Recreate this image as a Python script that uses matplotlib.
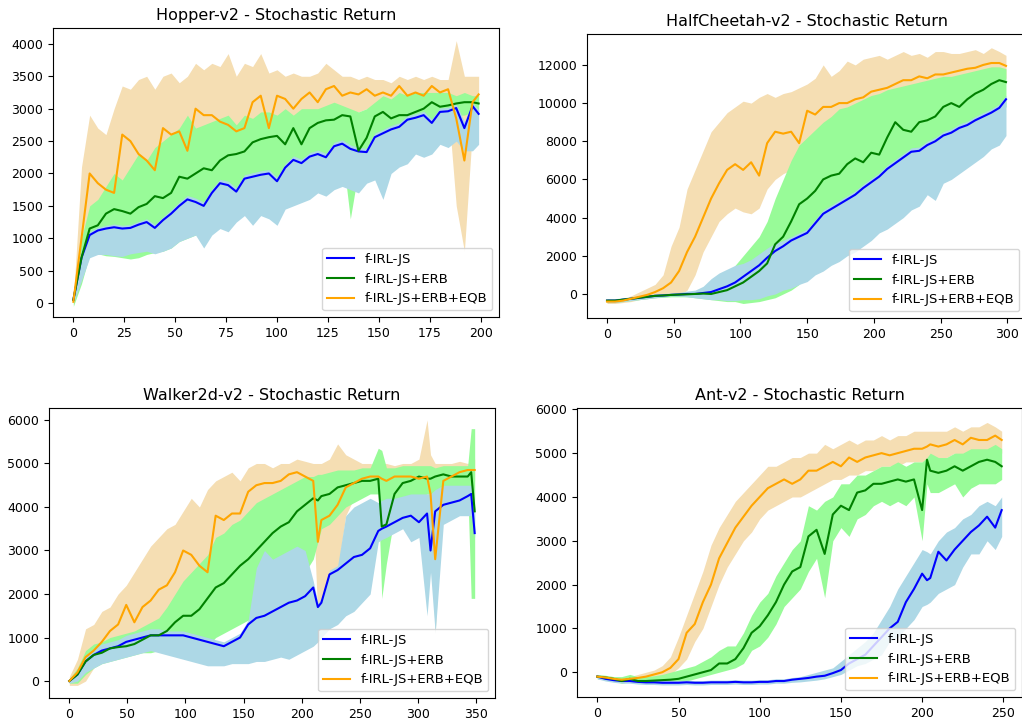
import matplotlib
matplotlib.use('Agg')
import matplotlib.pyplot as plt

plt.rcParams['font.family'] = 'DejaVu Sans'
plt.rcParams['font.size'] = 9

labels = ['f-IRL-JS', 'f-IRL-JS+ERB', 'f-IRL-JS+ERB+EQB']

# ---------------- Hopper-v2 ----------------
hop_x = [0, 4, 8, 12, 16, 20, 24, 28, 32, 36, 40, 44, 48, 52, 56, 60, 64, 68, 72, 76,
         80, 84, 88, 92, 96, 100, 104, 108, 112, 116, 120, 124, 128, 132, 136, 140, 144, 148, 152, 156,
         160, 164, 168, 172, 176, 180, 184, 188, 192, 196, 199]
hop_js = [50, 700, 1050, 1120, 1150, 1170, 1150, 1160, 1210, 1250, 1160, 1280, 1380, 1500, 1600, 1560, 1500, 1700, 1850, 1820,
          1720, 1920, 1950, 1980, 2000, 1880, 2090, 2210, 2160, 2260, 2300, 2250, 2420, 2460, 2380, 2340, 2330, 2560, 2620, 2680,
          2720, 2830, 2860, 2900, 2780, 2950, 2960, 3010, 2700, 3040, 2920]
hop_js_lo = [0, 350, 700, 750, 750, 730, 720, 760, 780, 800, 760, 800, 850, 950, 1000, 1050, 850, 1050, 1150, 1100,
             1250, 1350, 1200, 1350, 1300, 1200, 1450, 1500, 1550, 1600, 1700, 1650, 1750, 1800, 1750, 1700, 1850, 1900, 1600, 2000,
             2100, 2150, 2300, 2250, 2300, 2450, 2400, 2500, 2350, 2350, 2450]
hop_js_hi = [60, 760, 1100, 1170, 1200, 1220, 1200, 1210, 1260, 1300, 1210, 1330, 1440, 1560, 1660, 1620, 1560, 1760, 1910, 1880,
             1780, 1980, 2010, 2040, 2060, 1940, 2150, 2270, 2220, 2320, 2360, 2310, 2480, 2520, 2440, 2400, 2390, 2620, 2680, 2740,
             2780, 2890, 2920, 2960, 2840, 3010, 3020, 3070, 2800, 3100, 2980]
hop_erb = [50, 700, 1150, 1200, 1380, 1450, 1420, 1380, 1480, 1530, 1650, 1620, 1700, 1950, 1920, 2000, 2080, 2050, 2200, 2280,
           2300, 2340, 2480, 2530, 2560, 2580, 2450, 2700, 2450, 2700, 2780, 2820, 2830, 2900, 2880, 2350, 2550, 2880, 2950, 2850,
           2900, 2900, 2950, 3000, 3100, 3030, 3050, 3080, 3100, 3100, 3080]
hop_erb_lo = [-50, 300, 750, 760, 730, 720, 700, 680, 700, 750, 780, 800, 850, 950, 1000, 1050, 1150, 1200, 1350, 1450,
              1500, 1600, 1650, 1700, 1800, 1900, 2000, 2050, 2100, 2150, 2200, 2250, 2300, 2350, 1300, 2050, 2250, 2300, 2450, 2500,
              2550, 2600, 2650, 2700, 2750, 2800, 2850, 2900, 2900, 2950, 2950]
hop_erb_hi = [100, 1000, 1500, 1600, 1800, 2000, 1900, 2100, 2300, 2200, 2400, 2500, 2600, 2700, 2900, 2700, 2750, 2800, 2850, 2900,
              2750, 2900, 2850, 2950, 2950, 2900, 3000, 2900, 3000, 3000, 3000, 3050, 3100, 3050, 3000, 2950, 3000, 3100, 3200, 3150,
              3250, 3200, 3250, 3250, 3250, 3250, 3250, 3200, 3250, 3200, 3200]
hop_eqb = [20, 1000, 2000, 1850, 1750, 1700, 2600, 2500, 2300, 2200, 2050, 2700, 2600, 2650, 2350, 3000, 2900, 2900, 2800, 2750,
           2650, 2700, 3100, 3200, 2700, 3200, 3150, 3000, 3150, 3250, 3100, 3300, 3350, 3200, 3250, 3220, 3300, 3200, 3250, 3200,
           3350, 3200, 3250, 3200, 3350, 3250, 3300, 2850, 2200, 3100, 3220]
hop_eqb_lo = [-30, 600, 1000, 1050, 1100, 1150, 1300, 1450, 1550, 1600, 1650, 1700, 1800, 1850, 1900, 2000, 2050, 2100, 2200, 2300,
              2350, 2350, 2450, 2500, 2500, 2600, 2650, 2700, 2750, 2800, 2850, 2900, 2950, 2700, 2950, 2950, 3000, 3000, 3000, 3000,
              3050, 3050, 3050, 3050, 3100, 3050, 3050, 1500, 800, 2700, 2950]
hop_eqb_hi = [50, 2100, 2900, 2700, 2600, 3000, 3350, 3300, 3450, 3500, 3300, 3500, 3550, 3400, 3500, 3700, 3600, 3700, 3650, 3850,
              3500, 3700, 3650, 3850, 3550, 3600, 3500, 3550, 3500, 3500, 3550, 3700, 3600, 3500, 3500, 3450, 3500, 3450, 3450, 3400,
              3500, 3450, 3500, 3450, 3500, 3450, 3450, 4050, 3500, 3500, 3500]

# ---------------- HalfCheetah-v2 ----------------
hc_x = [0, 6, 12, 18, 24, 30, 36, 42, 48, 54, 60, 66, 72, 78, 84, 90, 96, 102, 108, 114,
        120, 126, 132, 138, 144, 150, 156, 162, 168, 174, 180, 186, 192, 198, 204, 210, 216, 222, 228, 234,
        240, 246, 252, 258, 264, 270, 276, 282, 288, 294, 299]
hc_js = [-350, -350, -300, -250, -200, -150, -100, -80, -50, -30, 0, 0, 50, 100, 250, 400, 600, 900, 1200, 1500,
         1900, 2250, 2500, 2800, 3000, 3200, 3700, 4200, 4450, 4700, 4950, 5200, 5550, 5850, 6150, 6550, 6850, 7150, 7450, 7500,
         7800, 8000, 8300, 8450, 8700, 8850, 9100, 9300, 9500, 9750, 10200]
hc_js_lo = [-450, -450, -400, -350, -300, -250, -200, -150, -100, -100, -150, -200, -250, -300, -300, -350, -350, -300, -300, -250,
            -100, 0, 200, 300, 500, 650, 1000, 1200, 1500, 1700, 2000, 2200, 2500, 2800, 3200, 3400, 3700, 4000, 4400, 4600,
            5200, 4900, 5800, 6000, 6300, 6600, 6900, 7200, 7600, 7800, 8300]
hc_js_hi = [-250, -250, -200, -150, -100, -50, 0, 20, 50, 80, 150, 200, 400, 800, 1100, 1300, 1500, 1600, 1800, 2100,
            2400, 2650, 2800, 3000, 3200, 3400, 3900, 4400, 4650, 4900, 5150, 5400, 5750, 6050, 6350, 6750, 7050, 7350, 7650, 7700,
            8000, 8200, 8500, 8650, 8900, 9050, 9300, 9500, 9700, 9950, 10400]
hc_erb = [-350, -350, -300, -250, -200, -150, -100, -80, -50, -30, -20, 0, 20, 0, 100, 200, 400, 600, 900, 1200,
          1600, 2600, 3000, 3800, 4700, 5000, 5400, 6000, 6200, 6300, 6800, 7100, 6900, 7400, 7300, 8200, 9000, 8600, 8500, 9000,
          9100, 9300, 9800, 10000, 9800, 10200, 10500, 10700, 11000, 11200, 11100]
hc_erb_lo = [-450, -450, -400, -350, -300, -250, -200, -180, -150, -150, -150, -200, -250, -300, -350, -400, -400, -500, -450, -400,
             -300, -200, 0, 200, 500, 1000, 1500, 2000, 2500, 3000, 3500, 4000, 4500, 4800, 5200, 5500, 6000, 6500, 6800, 7200,
             7500, 7700, 8000, 8300, 8500, 8700, 9000, 9200, 9500, 9700, 9800]
hc_erb_hi = [-300, -300, -250, -200, -150, -100, -50, 0, 20, 30, 50, 100, 150, 250, 500, 1000, 1500, 2000, 2500, 3000,
             3800, 5000, 6000, 7000, 7800, 8200, 8600, 9000, 9300, 9700, 9800, 10000, 10200, 10400, 10500, 10700, 10800, 10900, 11000, 11100,
             11200, 11300, 11400, 11400, 11500, 11600, 11700, 11800, 11900, 11900, 11800]
hc_eqb = [-400, -400, -350, -250, -150, -50, 100, 300, 600, 1200, 2200, 3000, 4000, 5000, 5800, 6500, 6800, 6500, 6900, 6200,
          7900, 8500, 8400, 8500, 7900, 9600, 9400, 9800, 9800, 10000, 10000, 10200, 10300, 10600, 10700, 10800, 11000, 11200, 11200, 11400,
          11300, 11500, 11500, 11600, 11700, 11800, 11850, 12000, 12100, 12100, 11950]
hc_eqb_lo = [-500, -500, -450, -400, -300, -250, -200, -150, -50, -100, 200, 1000, 2200, 3000, 3800, 4200, 4500, 4300, 4200, 4500,
             5500, 6000, 6300, 6500, 7000, 7800, 8000, 8300, 8500, 8700, 8800, 9000, 9200, 9400, 9600, 9800, 10000, 10100, 10300, 10400,
             10500, 10600, 10700, 10800, 10900, 11000, 11100, 11200, 11300, 11400, 11300]
hc_eqb_hi = [-300, -300, -250, -100, 100, 300, 500, 1000, 2500, 3500, 5500, 6500, 7500, 8500, 9000, 9500, 9800, 10100, 10000, 10300,
             10500, 10300, 10500, 10600, 10800, 11000, 11300, 12000, 11400, 11700, 12200, 12000, 12300, 12400, 12500, 12300, 12500, 12700, 12500, 12600,
             12400, 12700, 12700, 12600, 12600, 12700, 12800, 12600, 12900, 12700, 12500]

# ---------------- Walker2d-v2 ----------------
wk_x = [0, 7, 14, 21, 28, 35, 42, 49, 56, 63, 70, 77, 84, 91, 98, 105, 112, 119, 126, 133,
        140, 147, 154, 161, 168, 175, 182, 189, 196, 203, 210, 214, 217, 224, 231, 238, 245, 252, 259, 266,
        269, 273, 280, 287, 294, 301, 308, 311, 315, 322, 329, 336, 343, 346, 349]
wk_js = [0, 150, 450, 600, 700, 750, 800, 900, 950, 1000, 1050, 1050, 1050, 1050, 1050, 1000, 950, 900, 850, 800,
         900, 1000, 1300, 1450, 1500, 1600, 1700, 1800, 1850, 1950, 2150, 1700, 1800, 2450, 2550, 2700, 2850, 2900, 3050, 3450,
         3500, 3550, 3650, 3750, 3800, 3650, 3850, 3000, 3900, 4050, 4100, 4150, 4250, 4300, 3400]
wk_js_lo = [-50, 0, 200, 300, 400, 450, 500, 550, 600, 650, 700, 650, 600, 550, 500, 450, 400, 350, 350, 350,
            400, 400, 400, 450, 450, 500, 550, 500, 600, 700, 800, 900, 1000, 1200, 1300, 1500, 1600, 1800, 2000, 3200,
            3250, 3300, 3400, 3500, 3200, 3300, 1500, 2500, 1100, 3600, 3700, 3800, 3800, 3800, 3300]
wk_js_hi = [50, 250, 600, 750, 850, 900, 950, 1050, 1100, 1150, 1200, 1200, 1150, 1150, 1150, 1100, 1050, 1000, 950, 900,
            1000, 1100, 1400, 2600, 3000, 2800, 2900, 3000, 3100, 3000, 2300, 1800, 1900, 2550, 2650, 3800, 4000, 4100, 4200, 4100,
            4150, 4200, 4200, 4250, 4300, 4300, 4300, 4300, 4400, 4500, 4500, 4500, 4500, 4500, 4000]
wk_erb = [0, 150, 450, 600, 650, 750, 780, 800, 850, 950, 1050, 1050, 1150, 1350, 1500, 1500, 1650, 1900, 2150, 2250,
          2450, 2650, 2800, 3000, 3200, 3400, 3550, 3650, 3900, 4050, 4200, 4150, 4250, 4300, 4450, 4500, 4550, 4600, 4600, 4650,
          3550, 3600, 4300, 4550, 4600, 4700, 4650, 4650, 4700, 4750, 4700, 4700, 4700, 4800, 3900]
wk_erb_lo = [-50, -50, 150, 300, 400, 450, 500, 550, 600, 650, 650, 700, 700, 650, 600, 600, 700, 800, 1000, 1100,
             1200, 1300, 1400, 1500, 1700, 1800, 1900, 2000, 2200, 2500, 2800, 3200, 3500, 3600, 3800, 4000, 4100, 4200, 4300, 4300,
             1900, 2700, 3800, 4000, 4200, 4200, 4300, 4300, 4300, 4400, 4300, 4300, 4400, 1900, 1900]
wk_erb_hi = [50, 300, 700, 850, 900, 1000, 1050, 1100, 1150, 1250, 1350, 1450, 1700, 2000, 2300, 2500, 2700, 2900, 3300, 3400,
             3600, 3700, 3900, 4100, 4200, 4300, 4400, 4500, 4600, 4700, 4700, 4750, 4750, 4800, 4850, 4850, 4850, 4900, 4900, 5350,
             5300, 4900, 4900, 4950, 4950, 4950, 4950, 4950, 4900, 4950, 4950, 4950, 4950, 5800, 5800]
wk_eqb = [0, 200, 550, 700, 900, 1150, 1300, 1750, 1350, 1700, 1850, 2100, 2200, 2500, 3000, 2900, 2650, 2500, 3800, 3700,
          3850, 3850, 4350, 4500, 4550, 4550, 4600, 4750, 4800, 4700, 4600, 3200, 3700, 3800, 4050, 4450, 4550, 4650, 4700, 4700,
          4650, 4600, 4700, 4700, 4700, 4650, 4700, 4300, 2800, 4600, 4700, 4800, 4850, 4850, 4850]
wk_eqb_lo = [-100, -100, 0, 300, 500, 600, 700, 800, 850, 900, 1000, 1100, 1300, 1500, 1800, 2000, 2100, 2200, 2500, 2800,
             3000, 3200, 3400, 3600, 3700, 3800, 3900, 4000, 4100, 4100, 4000, 1400, 1500, 2000, 2500, 3800, 4200, 4300, 4400, 4400,
             4400, 4400, 4400, 4400, 4300, 4200, 4300, 3500, 1100, 4400, 4500, 4500, 4500, 4500, 4600]
wk_eqb_hi = [100, 500, 1200, 1300, 1600, 1700, 2000, 2200, 2500, 2800, 3100, 3300, 3500, 3600, 3900, 4200, 4000, 4400, 4600, 4700,
             4800, 4600, 4900, 5000, 5000, 4900, 5000, 5000, 5100, 5050, 5000, 5000, 5000, 5100, 5450, 5200, 5100, 5000, 5000, 4950,
             5000, 5000, 4950, 5000, 5000, 5100, 6000, 5200, 5000, 5000, 5000, 5050, 5000, 5050, 5100]

# ---------------- Ant-v2 ----------------
ant_x = [0, 5, 10, 15, 20, 25, 30, 35, 40, 45, 50, 55, 60, 65, 70, 75, 80, 85, 90, 95,
         100, 105, 110, 115, 120, 125, 130, 135, 140, 145, 150, 155, 160, 165, 170, 175, 180, 185, 190, 195,
         200, 203, 205, 210, 215, 220, 225, 230, 235, 240, 245, 249]
ant_js = [-100, -150, -180, -200, -200, -220, -230, -230, -240, -240, -240, -230, -240, -240, -230, -230, -230, -220, -230, -230,
          -220, -220, -200, -200, -170, -150, -130, -100, -80, -20, 50, 200, 300, 400, 600, 800, 1000, 1150, 1600, 1900,
          2250, 2100, 2150, 2750, 2550, 2800, 3000, 3200, 3350, 3550, 3300, 3700]
ant_js_lo = [-150, -200, -230, -250, -250, -270, -280, -280, -290, -290, -290, -280, -290, -290, -280, -280, -280, -270, -280, -280,
             -270, -270, -250, -250, -230, -220, -200, -180, -150, -100, -50, 50, 150, 200, 300, 400, 700, 800, 1000, 1200,
             1500, 1550, 1600, 1800, 1900, 2000, 2400, 2700, 2700, 3000, 2800, 3100]
ant_js_hi = [-50, -100, -130, -150, -150, -170, -180, -180, -190, -190, -190, -180, -190, -190, -180, -180, -180, -170, -180, -180,
             -170, -170, -150, -150, -120, -100, -50, 0, 50, 100, 250, 400, 550, 700, 900, 1200, 1500, 1900, 2200, 2500,
             2800, 2750, 2700, 3000, 3200, 3300, 3500, 3600, 3800, 3900, 3800, 4000]
ant_erb = [-100, -120, -150, -200, -150, -200, -200, -190, -180, -170, -150, -100, -50, 0, 50, 200, 200, 300, 550, 900,
           1050, 1300, 1600, 2000, 2300, 2400, 3100, 3250, 2700, 3600, 3800, 3700, 4100, 4150, 4300, 4300, 4350, 4400, 4350, 4400,
           3700, 4850, 4600, 4550, 4600, 4700, 4600, 4700, 4800, 4850, 4800, 4700]
ant_erb_lo = [-150, -170, -200, -250, -220, -250, -250, -240, -230, -220, -220, -200, -150, -100, -50, 0, 50, 100, 200, 500,
              600, 800, 1100, 1500, 1700, 1900, 2300, 2600, 1700, 3000, 3300, 3100, 3500, 3600, 3800, 3900, 3800, 3900, 3800, 4000,
              3000, 4300, 4100, 4100, 4200, 4300, 4000, 4200, 4300, 4300, 4300, 4400]
ant_erb_hi = [-50, -70, -100, -100, -50, -100, -100, -80, -50, 0, 50, 100, 150, 250, 350, 500, 600, 600, 900, 1300,
              1600, 1800, 2200, 2500, 2800, 3000, 3800, 3700, 3900, 4000, 4300, 4300, 4500, 4500, 4600, 4700, 4700, 4800, 4700, 4800,
              4800, 4900, 5000, 4900, 4900, 5000, 5000, 5100, 5100, 5100, 5200, 5100]
ant_eqb = [-100, -120, -150, -170, -150, -130, -100, -50, 0, 100, 300, 900, 1100, 1600, 2000, 2600, 2950, 3300, 3550, 3800,
           4000, 4200, 4300, 4400, 4300, 4400, 4600, 4600, 4700, 4800, 4700, 4900, 4800, 4900, 4950, 5000, 4950, 5000, 5050, 5100,
           5100, 5150, 5200, 5150, 5200, 5300, 5200, 5350, 5300, 5300, 5400, 5300]
ant_eqb_lo = [-150, -170, -200, -220, -200, -180, -150, -120, -100, -50, 100, 300, 700, 1000, 1500, 2000, 2400, 2700, 3000, 3200,
              3500, 3700, 3800, 3900, 4000, 4000, 4100, 4200, 4300, 4400, 4400, 4500, 4500, 4600, 4600, 4700, 4700, 4700, 4800, 4800,
              4800, 4850, 4900, 4900, 4900, 5000, 4900, 5000, 5000, 5000, 5100, 5000]
ant_eqb_hi = [-50, -80, -100, -120, -100, -50, 0, 50, 150, 350, 800, 1300, 1800, 2300, 2900, 3300, 3600, 3900, 4100, 4300,
              4500, 4700, 4700, 4800, 4900, 4900, 5000, 5000, 5200, 5100, 5200, 5300, 5200, 5300, 5300, 5400, 5300, 5400, 5400, 5500,
              5500, 5500, 5500, 5500, 5500, 5600, 5500, 5600, 5600, 5700, 5600, 5500]


def panel(ax, title, x, js, erb, eqb):
    # bands: orange first, then green, then blue
    ax.fill_between(x, eqb[1], eqb[2], color='wheat', linewidth=0)
    ax.fill_between(x, erb[1], erb[2], color='palegreen', linewidth=0)
    ax.fill_between(x, js[1], js[2], color='lightblue', linewidth=0)
    ax.plot(x, js[0], color='blue', linewidth=1.5, label=labels[0])
    ax.plot(x, erb[0], color='green', linewidth=1.5, label=labels[1])
    ax.plot(x, eqb[0], color='orange', linewidth=1.5, label=labels[2])
    ax.set_title(title, fontsize=11.5)
    ax.legend(loc='lower right', fontsize=9.5)


W, H = 1022, 724
fig = plt.figure(figsize=(W / 100, H / 100), dpi=100)

ax1 = fig.add_axes([53 / W, 1 - 317 / H, 446 / W, 289 / H])
panel(ax1, 'Hopper-v2 - Stochastic Return', hop_x,
      (hop_js, hop_js_lo, hop_js_hi), (hop_erb, hop_erb_lo, hop_erb_hi), (hop_eqb, hop_eqb_lo, hop_eqb_hi))
ax1.set_xlim(-10, 209)
ax1.set_ylim(-215, 4245)
ax1.set_xticks([0, 25, 50, 75, 100, 125, 150, 175, 200])

ax2 = fig.add_axes([587 / W, 1 - 318 / H, 439 / W, 284 / H])
panel(ax2, 'HalfCheetah-v2 - Stochastic Return', hc_x,
      (hc_js, hc_js_lo, hc_js_hi), (hc_erb, hc_erb_lo, hc_erb_hi), (hc_eqb, hc_eqb_lo, hc_eqb_hi))
ax2.set_xlim(-15, 314)
ax2.set_ylim(-1260, 13620)
ax2.set_xticks([0, 50, 100, 150, 200, 250, 300])

ax3 = fig.add_axes([49 / W, 1 - 698 / H, 446 / W, 290 / H])
panel(ax3, 'Walker2d-v2 - Stochastic Return', wk_x,
      (wk_js, wk_js_lo, wk_js_hi), (wk_erb, wk_erb_lo, wk_erb_hi), (wk_eqb, wk_eqb_lo, wk_eqb_hi))
ax3.set_xlim(-17.5, 366.5)
ax3.set_ylim(-390, 6275)
ax3.set_xticks([0, 50, 100, 150, 200, 250, 300, 350])

ax4 = fig.add_axes([577 / W, 1 - 697 / H, 445 / W, 289 / H])
panel(ax4, 'Ant-v2 - Stochastic Return', ant_x,
      (ant_js, ant_js_lo, ant_js_hi), (ant_erb, ant_erb_lo, ant_erb_hi), (ant_eqb, ant_eqb_lo, ant_eqb_hi))
ax4.set_xlim(-12.5, 261.5)
ax4.set_ylim(-565, 6030)
ax4.set_xticks([0, 50, 100, 150, 200, 250])

fig.savefig('out.png', dpi=100)
